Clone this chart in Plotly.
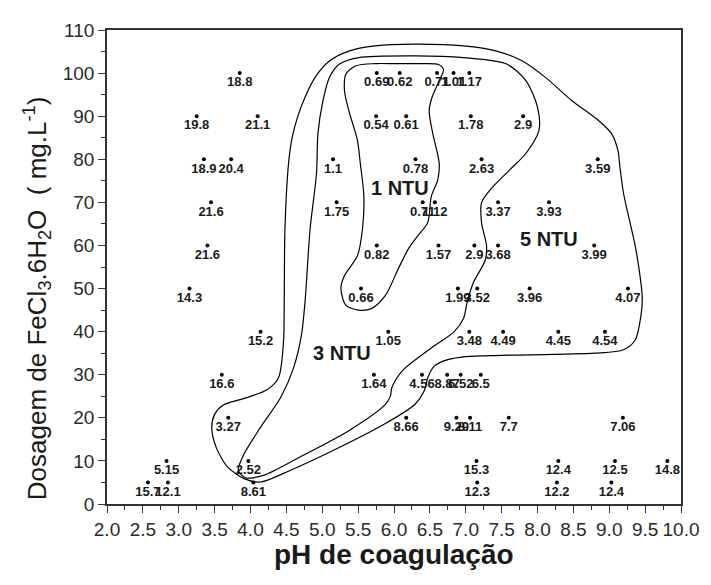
import plotly.graph_objects as go

# ---- data: measured points (pH, dosage) and residual turbidity labels ----
ph = [3.85, 3.25, 4.10, 3.35, 3.73, 3.45, 3.40, 3.15, 4.14, 3.60, 3.69, 2.83, 2.57, 2.85, 3.97, 4.04,
      5.15, 5.20, 5.76, 5.75, 5.76, 5.54,
      6.08, 6.60, 6.83, 7.05,
      6.17, 7.07, 7.80, 6.30, 7.22, 8.84,
      6.40, 6.57, 7.45, 8.16,
      6.62, 7.12, 7.45, 8.79,
      6.89, 7.16, 7.89, 9.26,
      5.92, 7.05, 7.52, 8.29, 8.94,
      5.72, 6.39, 6.74, 6.93, 7.21,
      6.17, 6.87, 7.06, 7.60, 9.19,
      7.15, 8.29, 9.08, 9.81,
      7.16, 8.27, 9.03]
dose = [100, 90, 90, 80, 80, 70, 60, 50, 40, 30, 20, 10, 5, 5, 10, 5,
        80, 70, 100, 90, 60, 50,
        100, 100, 100, 100,
        90, 90, 90, 80, 80, 80,
        70, 70, 70, 70,
        60, 60, 60, 60,
        50, 50, 50, 50,
        40, 40, 40, 40, 40,
        30, 30, 30, 30, 30,
        20, 20, 20, 20, 20,
        10, 10, 10, 10,
        5, 5, 5]
turb = ["18.8", "19.8", "21.1", "18.9", "20.4", "21.6", "21.6", "14.3", "15.2", "16.6", "3.27", "5.15", "15.7", "12.1", "2.52", "8.61",
        "1.1", "1.75", "0.69", "0.54", "0.82", "0.66",
        "0.62", "0.71", "1.01", "1.17",
        "0.61", "1.78", "2.9", "0.78", "2.63", "3.59",
        "0.71", "1.12", "3.37", "3.93",
        "1.57", "2.9", "3.68", "3.99",
        "1.99", "3.52", "3.96", "4.07",
        "1.05", "3.48", "4.49", "4.45", "4.54",
        "1.64", "4.56", "8.87", "6.52", "6.5",
        "8.66", "9.29", "8.11", "7.7", "7.06",
        "15.3", "12.4", "12.5", "14.8",
        "12.3", "12.2", "12.4"]

# ---- iso-turbidity contours ----
ntu1_x = [6.00, 6.38, 6.62, 6.69, 6.62, 6.53, 6.49, 6.54, 6.63, 6.61, 6.52, 6.47, 6.33, 6.20, 6.06, 5.88,
          5.69, 5.51, 5.33, 5.26, 5.31, 5.49, 5.56, 5.58, 5.53, 5.49, 5.37, 5.31, 5.33, 5.47, 5.74, 6.00]
ntu1_y = [102.2, 102.2, 102.0, 100.8, 97.9, 94.4, 91.3, 86.0, 79.1, 75.2, 71.4, 65.3, 62.2, 59.2, 54.6, 48.4,
          45.4, 45.0, 46.1, 50.0, 53.0, 57.6, 63.7, 71.4, 79.1, 84.4, 91.3, 95.9, 99.8, 101.7, 102.2, 102.2]

ntu3_x = [6.29, 6.97, 7.57, 7.84, 8.00, 8.02, 7.84, 7.61, 7.34, 7.22, 7.22, 7.29, 7.27, 7.11, 7.02, 6.97,
          6.84, 6.52, 6.11, 5.97, 5.95, 5.88, 5.37, 4.69, 4.19, 3.93, 3.83, 3.91, 4.14, 4.42, 4.60, 4.71,
          4.76, 4.83, 4.92, 4.94, 5.01, 5.10, 5.24, 5.51, 6.29]
ntu3_y = [104.0, 103.6, 102.1, 98.2, 92.1, 86.7, 81.4, 77.5, 72.9, 69.9, 65.3, 59.9, 56.5, 51.5, 46.9, 43.1,
          40.0, 36.2, 30.8, 27.0, 25.1, 23.1, 17.0, 10.9, 6.7, 6.1, 7.8, 11.6, 17.8, 24.7, 31.6, 39.2,
          46.9, 63.7, 76.8, 86.0, 93.6, 99.0, 102.1, 103.6, 104.0]

ntu5_x = [6.29, 6.97, 7.43, 7.79, 8.11, 8.48, 8.85, 9.03, 9.12, 9.15, 9.20, 9.28, 9.36, 9.42, 9.46, 9.44,
          9.36, 9.20, 8.80, 7.50, 7.00, 6.75, 6.56, 6.47, 6.42, 6.29, 5.83, 5.15, 4.46, 4.14, 3.91, 3.68,
          3.52, 3.46, 3.50, 3.62, 3.91, 4.23, 4.39, 4.46, 4.47, 4.48, 4.53, 4.58, 4.66, 4.76, 4.90, 5.10,
          5.37, 5.74, 6.29]
ntu5_y = [106.7, 106.3, 105.1, 102.8, 99.0, 93.6, 89.0, 86.0, 82.1, 78.0, 72.0, 66.0, 60.0, 54.0, 48.0, 43.5,
          38.0, 35.8, 35.0, 34.5, 34.2, 33.5, 32.0, 29.3, 26.2, 23.1, 18.2, 12.4, 7.1, 5.1, 5.9, 8.6,
          13.2, 17.8, 20.8, 23.0, 24.5, 26.5, 29.3, 37.7, 46.9, 63.7, 79.0, 85.0, 90.0, 94.4, 99.0, 102.8,
          105.1, 106.3, 106.7]

zone_names = ["1 NTU", "3 NTU", "5 NTU"]
zone_x = [6.08, 5.27, 8.16]
zone_y = [73.3, 35.0, 61.6]

x_ticks = [2.0, 2.5, 3.0, 3.5, 4.0, 4.5, 5.0, 5.5, 6.0, 6.5, 7.0, 7.5, 8.0, 8.5, 9.0, 9.5, 10.0]
y_ticks = [0, 10, 20, 30, 40, 50, 60, 70, 80, 90, 100, 110]

FONT = "Arial, Liberation Sans, sans-serif"
INK = "#1a1a1a"

fig = go.Figure()

for cx, cy in [(ntu1_x, ntu1_y), (ntu3_x, ntu3_y), (ntu5_x, ntu5_y)]:
    fig.add_trace(go.Scatter(x=cx, y=cy, mode="lines",
                             line=dict(color="black", width=1.2, shape="spline", smoothing=0.8),
                             hoverinfo="skip", showlegend=False))

fig.add_trace(go.Scatter(x=ph, y=dose, mode="markers+text", text=turb,
                         textposition="bottom center",
                         textfont=dict(family=FONT, size=13, color=INK, weight="bold"),
                         marker=dict(color="black", size=4),
                         showlegend=False))

for name, zx, zy in zip(zone_names, zone_x, zone_y):
    fig.add_annotation(x=zx, y=zy, text="<b>%s</b>" % name, showarrow=False,
                       font=dict(family=FONT, size=20, color=INK))

fig.add_annotation(xref="paper", yref="paper", x=0.5, y=-0.1066, yanchor="middle",
                   text="<b>pH de coagulação</b>", showarrow=False,
                   font=dict(family=FONT, size=28, color=INK))
fig.add_annotation(xref="paper", yref="paper", x=-0.123, y=0.433, xanchor="center", yanchor="middle",
                   textangle=-90,
                   text="Dosagem de FeCl<sub>3</sub>.6H<sub>2</sub>O\u00a0\u00a0(\u00a0mg.L<sup>-1</sup>)",
                   showarrow=False, font=dict(family=FONT, size=26, color=INK))

# page body adds an 8px offset, so figure is sized to keep the plot area where the reference has it
fig.update_layout(
    width=703, height=577,
    margin=dict(l=99, r=20, t=17, b=81),
    paper_bgcolor="white", plot_bgcolor="white",
    font=dict(family=FONT, color=INK),
    xaxis=dict(range=[2, 10], tickvals=x_ticks, ticktext=["%.1f" % v for v in x_ticks],
               ticks="outside", ticklen=7, tickwidth=1.3, tickcolor="#333",
               minor=dict(ticks="outside", ticklen=4, dtick=0.25, tickcolor="#333", tickwidth=1.2),
               showline=True, linecolor="#333", linewidth=1.6, mirror=True,
               showgrid=False, zeroline=False, tickfont=dict(size=19, color="#2a2a2a")),
    yaxis=dict(range=[0, 110], tickvals=y_ticks,
               ticks="outside", ticklen=7, tickwidth=1.3, tickcolor="#333",
               minor=dict(ticks="outside", ticklen=4, dtick=5, tickcolor="#333", tickwidth=1.2),
               showline=True, linecolor="#333", linewidth=1.6, mirror=True,
               showgrid=False, zeroline=False, tickfont=dict(size=19, color="#2a2a2a")),
)

fig.write_html("out.html")
